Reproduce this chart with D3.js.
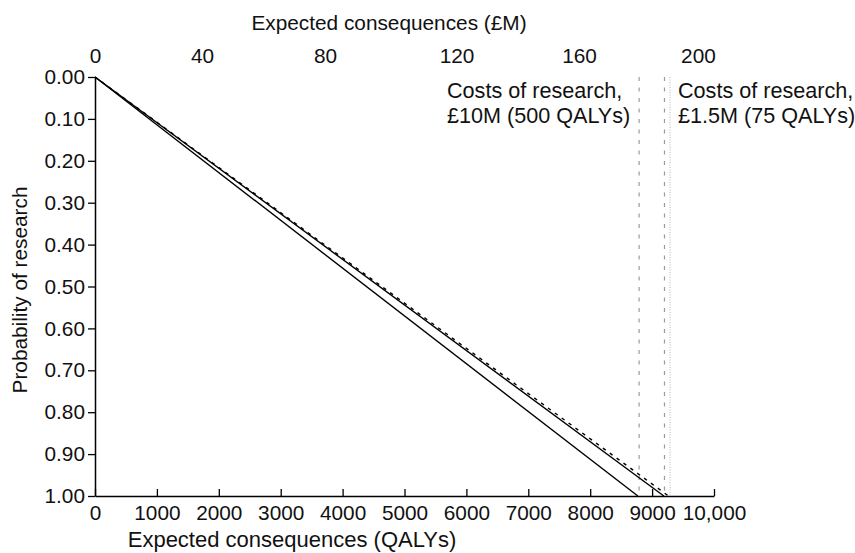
<!DOCTYPE html>
<html>
<head>
<meta charset="utf-8">
<script src="https://cdn.jsdelivr.net/npm/d3@7"></script>
<style>
  html, body { margin: 0; padding: 0; background: #fff; }
  svg { display: block; font-family: "Liberation Sans", Arial, Helvetica, sans-serif; }
</style>
</head>
<body>
<svg id="chart" width="855" height="553"></svg>
<script>
// Bottom axis: expected consequences in QALYs
const qalyTicks = [0, 1000, 2000, 3000, 4000, 5000, 6000, 7000, 8000, 9000, 10000];
const qalyTickLabels = ["0", "1000", "2000", "3000", "4000", "5000", "6000", "7000", "8000", "9000", "10,000"];

// Left axis: probability of research (reversed, 0 at top)
const probTicks = [0, 0.1, 0.2, 0.3, 0.4, 0.5, 0.6, 0.7, 0.8, 0.9, 1.0];

// Top axis: £M labels and where each one sits along the QALY axis
const moneyTicks = [0, 40, 80, 120, 160, 200];
const moneyTickAtQaly = [0, 1730, 3715, 5840, 7820, 9740];

// Lines: expected consequences reached at probability 0 and 1
const lineSolid500 = [[0, 0], [8770, 1]];
const lineSolid75 = [[0, 0], [9190, 1]];
const lineDashedNoCost = [[0, 0], [9265, 1]];

// Vertical reference lines (QALYs)
const costLine500 = 8790;
const costLine75 = 9200;
const noCostLine = 9290;

// Annotations
const note500 = ["Costs of research,", "£10M (500 QALYs)"];
const note75 = ["Costs of research,", "£1.5M (75 QALYs)"];

const svg = d3.select("#chart");
const plotLeft = 95, plotRight = 714, plotTop = 77, plotBottom = 496;

const x = d3.scaleLinear().domain([0, 10000]).range([plotLeft, plotRight]);
const y = d3.scaleLinear().domain([0, 1]).range([plotTop, plotBottom]);
const xMoney = d3.scaleLinear().domain(moneyTicks).range(moneyTickAtQaly.map(v => x(v)));

const fontSize = 20.8;
const noteSize = 21.6;

// Bottom axis
const xAxis = d3.axisBottom(x)
  .tickValues(qalyTicks)
  .tickFormat((d, i) => qalyTickLabels[i])
  .tickSizeInner(-7)
  .tickSizeOuter(0)
  .tickPadding(9);
const gx = svg.append("g").attr("transform", `translate(0,${plotBottom})`).call(xAxis);
gx.select(".domain").attr("stroke", "#000").attr("stroke-width", 1.5);
gx.selectAll(".tick line").attr("stroke", "#000").attr("stroke-width", 1.3);
gx.selectAll(".tick text").attr("font-size", fontSize).attr("fill", "#111").attr("font-family", null);

// Left axis
const yAxis = d3.axisLeft(y)
  .tickValues(probTicks)
  .tickFormat(d3.format(".2f"))
  .tickSizeInner(7)
  .tickSizeOuter(0)
  .tickPadding(3);
const gy = svg.append("g").attr("transform", `translate(${plotLeft},0)`).call(yAxis);
gy.select(".domain").attr("stroke", "#000").attr("stroke-width", 1.5);
gy.selectAll(".tick line").attr("stroke", "#000").attr("stroke-width", 1.3);
gy.selectAll(".tick text").attr("font-size", fontSize).attr("fill", "#111").attr("font-family", null);

// Top axis: labels only
const xTop = d3.axisTop(xMoney)
  .tickValues(moneyTicks)
  .tickSize(0)
  .tickPadding(0);
const gt = svg.append("g").attr("transform", `translate(0,63)`).call(xTop);
gt.select(".domain").remove();
gt.selectAll(".tick text").attr("font-size", fontSize).attr("fill", "#111").attr("font-family", null);

// Axis titles
svg.append("text")
  .attr("x", 389).attr("y", 30)
  .attr("text-anchor", "middle")
  .attr("font-size", fontSize).attr("fill", "#111")
  .text("Expected consequences (£M)");
svg.append("text")
  .attr("x", 292).attr("y", 547)
  .attr("text-anchor", "middle")
  .attr("font-size", 22).attr("fill", "#111")
  .text("Expected consequences (QALYs)");
svg.append("text")
  .attr("transform", "translate(27,290) rotate(-90)")
  .attr("text-anchor", "middle")
  .attr("font-size", fontSize).attr("fill", "#111")
  .text("Probability of research");

// Vertical reference lines
const vlines = [
  { v: costLine500, dash: "4,6.5", color: "#9a9a9a", w: 1.2 },
  { v: costLine75, dash: "4,6.5", color: "#9a9a9a", w: 1.2 },
  { v: noCostLine, dash: "1,1.5", color: "#b5b5b5", w: 1 }
];
svg.append("g").selectAll("line").data(vlines).join("line")
  .attr("x1", d => x(d.v)).attr("x2", d => x(d.v))
  .attr("y1", y(0)).attr("y2", y(1))
  .attr("stroke", d => d.color)
  .attr("stroke-width", d => d.w)
  .attr("stroke-dasharray", d => d.dash);

// Probability lines
const line = d3.line().x(d => x(d[0])).y(d => y(d[1]));
const series = [
  { pts: lineSolid500, dash: null },
  { pts: lineSolid75, dash: null },
  { pts: lineDashedNoCost, dash: "3.5,5" }
];
svg.append("g").selectAll("path").data(series).join("path")
  .attr("d", d => line(d.pts))
  .attr("fill", "none")
  .attr("stroke", "#000")
  .attr("stroke-width", 1.4)
  .attr("stroke-dasharray", d => d.dash);

// Annotations
function note(lines, xPos) {
  const t = svg.append("text")
    .attr("x", xPos).attr("y", 98)
    .attr("font-size", noteSize).attr("fill", "#111");
  t.selectAll("tspan").data(lines).join("tspan")
    .attr("x", xPos)
    .attr("dy", (d, i) => i === 0 ? 0 : 25)
    .text(d => d);
}
note(note500, 447);
note(note75, 678);
</script>
</body>
</html>
